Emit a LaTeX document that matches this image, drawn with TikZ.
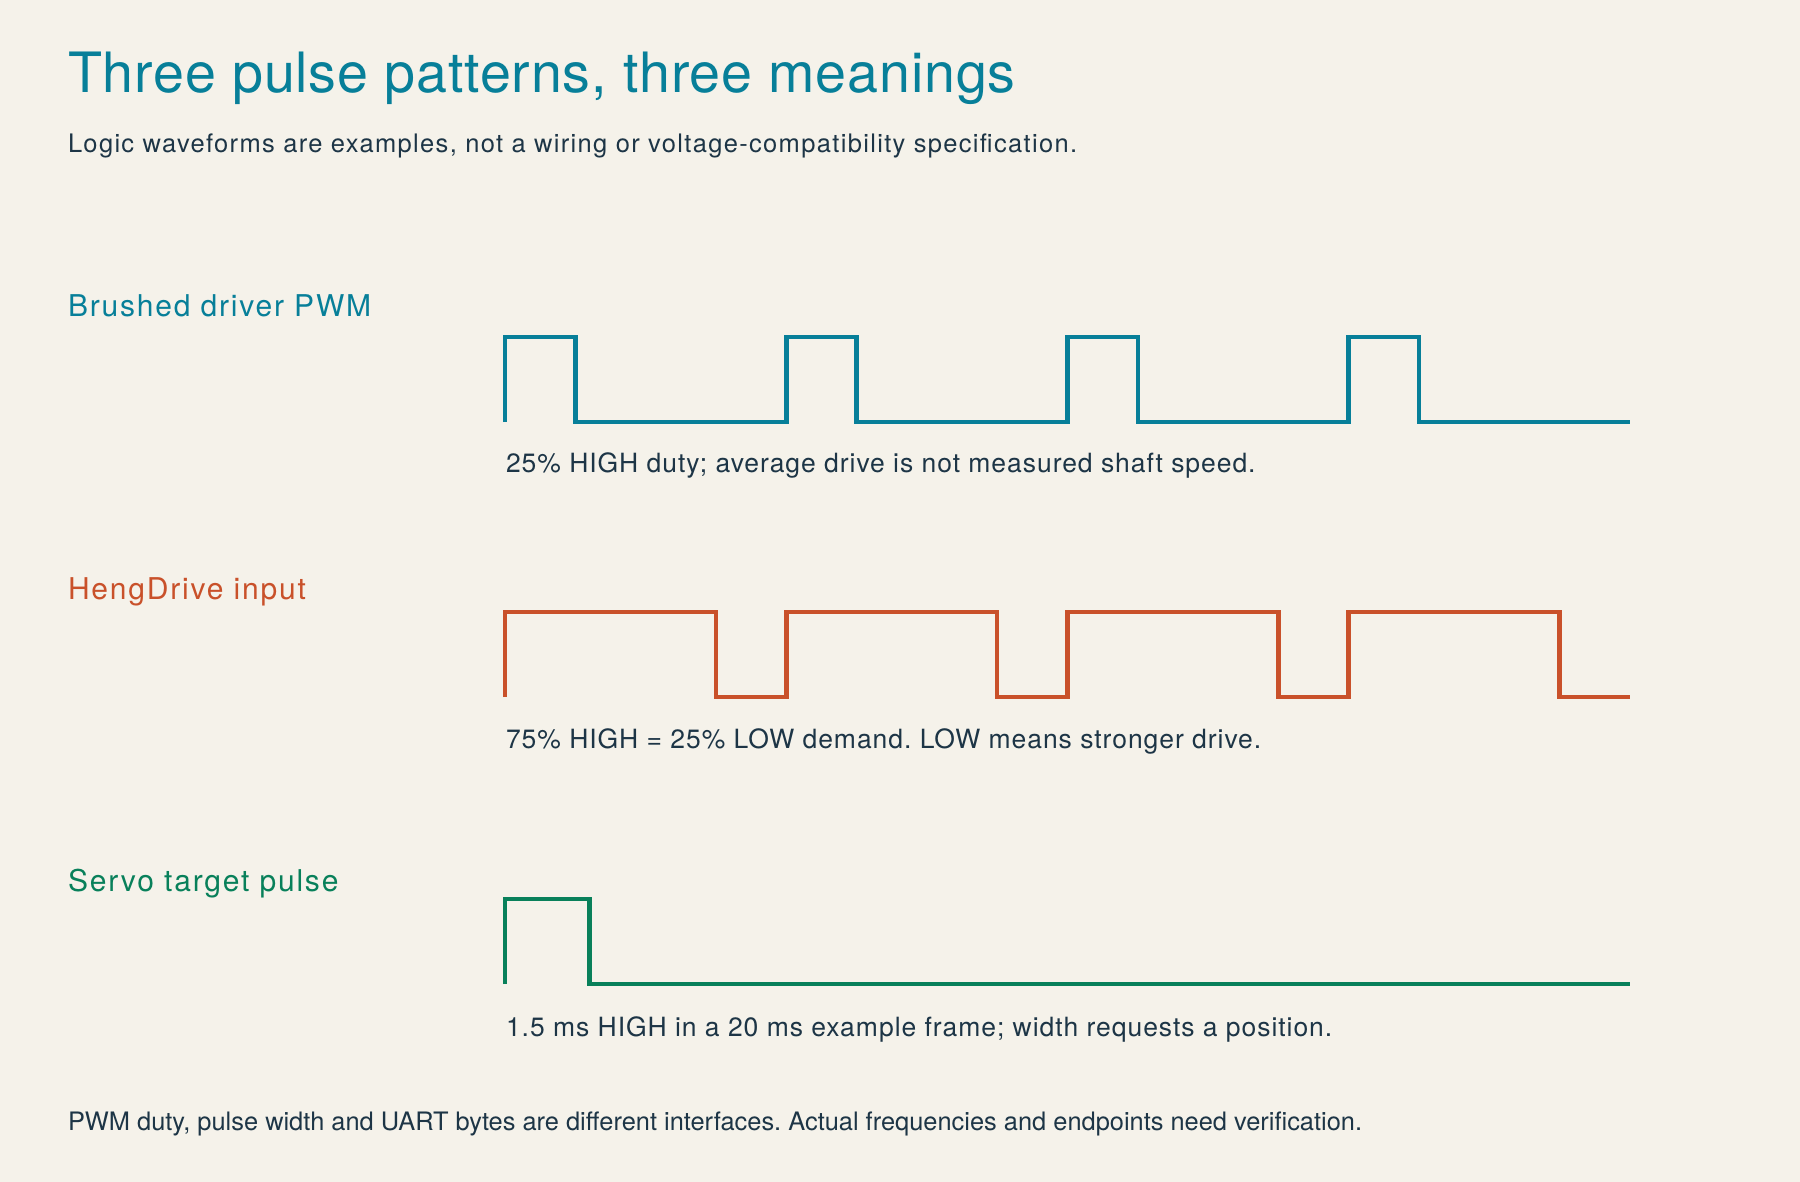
\documentclass[tikz,border=0pt]{standalone}
\usepackage{fontspec}
\setmainfont{TeX Gyre Heros}
\frenchspacing
\definecolor{bgc}{HTML}{F5F2EA}
\definecolor{teal}{HTML}{077F99}
\definecolor{rust}{HTML}{C9512A}
\definecolor{grn}{HTML}{08805A}
\definecolor{ink}{HTML}{1D3546}
\tikzset{
  txt/.style={anchor=base west, inner sep=0pt, outer sep=0pt},
  ttl/.style={txt, text=teal, font=\fontsize{55.6}{60}\selectfont\addfontfeature{LetterSpace=1.5}},
  subtext/.style={txt, text=ink, font=\fontsize{25.5}{30}\selectfont\addfontfeature{LetterSpace=5.2}},
  lbl/.style={txt, font=\fontsize{30}{36}\selectfont\addfontfeature{LetterSpace=6}},
  captext/.style={txt, text=ink, font=\fontsize{26.5}{32}\selectfont\addfontfeature{LetterSpace=3.6}},
  foottext/.style={txt, text=ink, font=\fontsize{25.4}{30}\selectfont},
  wave/.style={line width=4.6pt, line join=miter, line cap=butt}
}
\begin{document}
\begin{tikzpicture}[x=1pt,y=-1pt]
\fill[bgc] (0,0) rectangle (1800,1182);
\useasboundingbox (0,0) rectangle (1800,1182);

\node[ttl] (title) at (68,92.5) {Three pulse patterns, three meanings};
\node[subtext] (subtitle) at (68,153) {Logic waveforms are examples, not a wiring or voltage-compatibility specification.};

% Brushed driver PWM
\node[lbl, text=teal] (lab1) at (68,317) {Brushed driver PWM};
\draw[wave, teal] (505,422) \foreach \k in {0,1,2,3} { -- ++(0,-85) -- ++(70.3125,0) -- ++(0,85) -- ++(210.9375,0) };
\node[captext] (cap1) at (506,472) {25\% HIGH duty; average drive is not measured shaft speed.};

% HengDrive input
\node[lbl, text=rust] (lab2) at (68,599) {HengDrive input};
\draw[wave, rust] (505,697) \foreach \k in {0,1,2,3} { -- ++(0,-85) -- ++(210.9375,0) -- ++(0,85) -- ++(70.3125,0) };
\node[captext] (cap2) at (506,748) {75\% HIGH = 25\% LOW demand. LOW means stronger drive.};

% Servo target pulse
\node[lbl, text=grn] (lab3) at (68,891) {Servo target pulse};
\draw[wave, grn] (505,984) -- (505,899) -- (589.4,899) -- (589.4,984) -- (1630,984);
\node[captext] (cap3) at (506,1036) {1.5 ms HIGH in a 20 ms example frame; width requests a position.};

\node[foottext] (footer) at (68,1130) {PWM duty, pulse width and UART bytes are different interfaces. Actual frequencies and endpoints need verification.};
\end{tikzpicture}
\end{document}
